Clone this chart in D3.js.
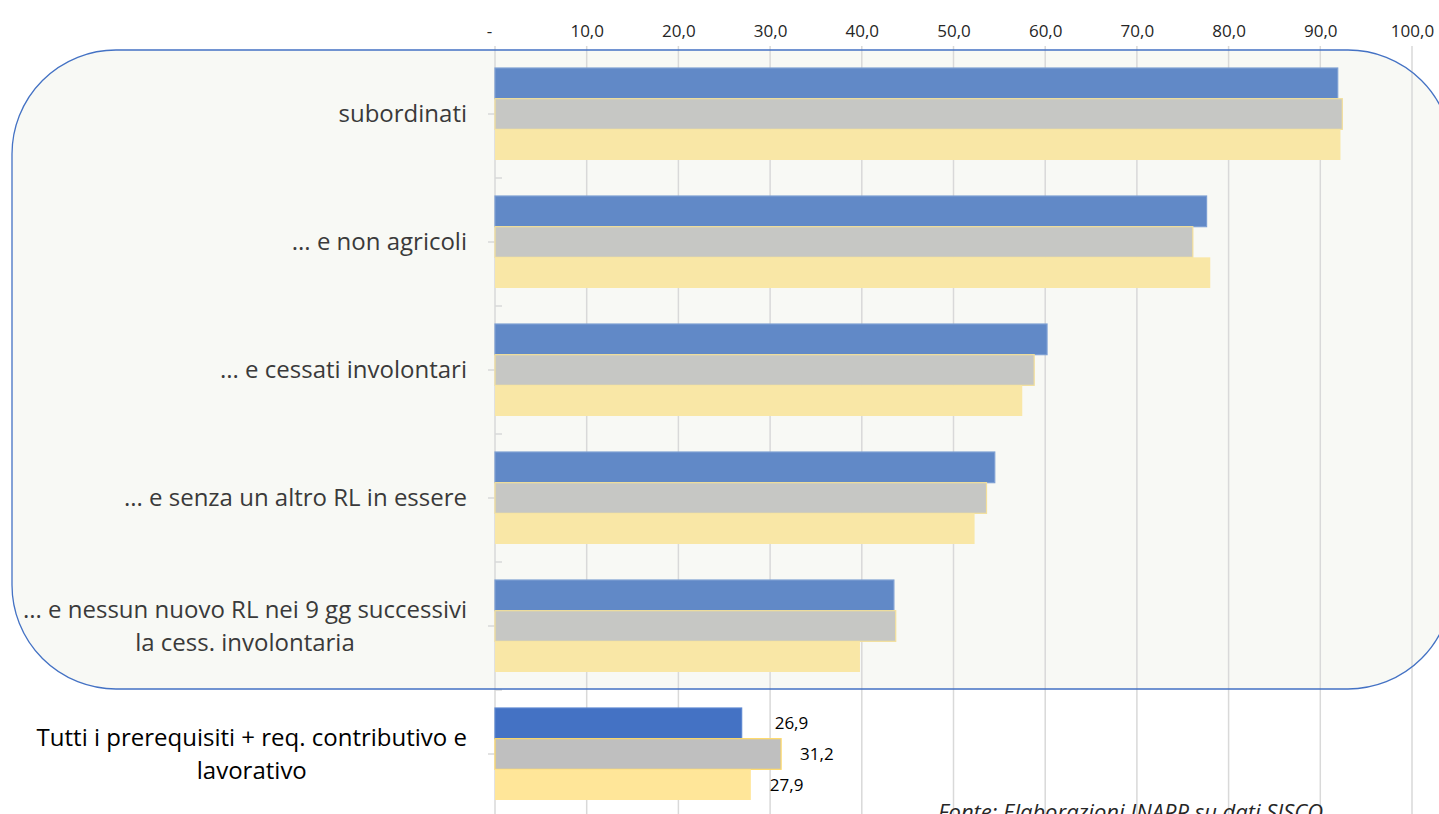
<!DOCTYPE html>
<html>
<head>
<meta charset="utf-8">
<script src="https://cdn.jsdelivr.net/npm/d3@7"></script>
<style>
  body { margin: 0; background: #fff; }
  svg { display: block; font-family: "Open Sans", sans-serif; }
</style>
</head>
<body>
<div id="chart"></div>
<script>
// chart data

var categories = [
  "subordinati",
  "... e non agricoli",
  "... e cessati involontari",
  "... e senza un altro RL in essere",
  "... e nessun nuovo RL nei 9 gg successivi\nla cess. involontaria",
  "Tutti i prerequisiti + req. contributivo e\nlavorativo"
];

var seriesKeys = ["s1", "s2", "s3"];

var s1Values = [91.9, 77.6, 60.2, 54.5, 43.5, 26.9];
var s2Values = [92.4, 76.1, 58.8, 53.6, 43.7, 31.2];
var s3Values = [92.2, 78.0, 57.5, 52.3, 39.8, 27.9];

var tickValues = [0, 10, 20, 30, 40, 50, 60, 70, 80, 90, 100];
var tickLabels = ["-", "10,0", "20,0", "30,0", "40,0", "50,0", "60,0", "70,0", "80,0", "90,0", "100,0"];

var sourceNote = "Fonte: Elaborazioni INAPP su dati SISCO";

// svg area to work in

var svgWidth = 1439;
var svgHeight = 814;

var margin = { top: 50, left: 495 };
var plotWidth = 917;
var plotHeight = 768;

// colours: the highlighted box fades the bars behind it
var colours = { s1: "#4472c4", s2: "#bfbfbf", s3: "#ffe699" };
var fadedColours = { s1: "#6189c7", s2: "#c6c7c4", s3: "#f9e7a6" };
var highlightCount = 5;

var svg = d3.select("#chart")
  .append("svg")
  .attr("width", svgWidth)
  .attr("height", svgHeight);

var rows = categories.map(function(c, i) {
  return { name: c, s1: s1Values[i], s2: s2Values[i], s3: s3Values[i], index: i };
});

var xScale = d3.scaleLinear()
  .domain([0, 100])
  .range([margin.left, margin.left + plotWidth]);

var yScale = d3.scaleBand()
  .domain(categories)
  .range([margin.top, margin.top + plotHeight])
  .paddingInner(0.28125)
  .paddingOuter(0.140625);

var ySub = d3.scaleBand()
  .domain(seriesKeys)
  .range([0, yScale.bandwidth()]);

// rounded highlight box background
var boxX = 12, boxY = 50, boxW = 1440, boxH = 639, boxR = 104;

svg.append("rect")
  .attr("x", boxX)
  .attr("y", boxY)
  .attr("width", boxW)
  .attr("height", boxH)
  .attr("rx", boxR)
  .attr("ry", boxR)
  .attr("fill", "#f8f9f5");

// vertical grid lines
svg.append("g")
  .selectAll("line")
  .data(tickValues)
  .enter()
  .append("line")
  .attr("x1", d => xScale(d))
  .attr("x2", d => xScale(d))
  .attr("y1", margin.top - 4)
  .attr("y2", svgHeight)
  .attr("stroke", "#d9d9d9")
  .attr("stroke-width", 1.5);

// top axis labels
var topAxis = d3.axisTop(xScale)
  .tickValues(tickValues)
  .tickFormat(function(d, i) { return tickLabels[i]; })
  .tickSize(0)
  .tickPadding(0);

var axisG = svg.append("g")
  .attr("transform", "translate(0, 37)")
  .call(topAxis);

axisG.select(".domain").remove();
axisG.selectAll("text")
  .attr("font-family", "'Open Sans', sans-serif")
  .attr("font-size", 17)
  .attr("fill", "#262626");
// the zero label ("-") sits a little left, like the accounting format
axisG.selectAll(".tick").filter(d => d === 0).select("text").attr("dx", -6);

// category ticks: centre ticks on the left, boundary ticks on the right
var tickG = svg.append("g");
rows.forEach(function(r, i) {
  var c = yScale(r.name) + yScale.bandwidth() / 2;
  tickG.append("line")
    .attr("x1", xScale(0) - 7).attr("x2", xScale(0))
    .attr("y1", c).attr("y2", c)
    .attr("stroke", "#d9d9d9").attr("stroke-width", 1.5);
  if (i > 0) {
    var b = yScale(r.name) - yScale.step() * yScale.paddingInner() / 2;
    tickG.append("line")
      .attr("x1", xScale(0)).attr("x2", xScale(0) + 7)
      .attr("y1", b).attr("y2", b)
      .attr("stroke", "#d9d9d9").attr("stroke-width", 1.5);
  }
});

// bars
var groups = svg.append("g")
  .selectAll("g")
  .data(rows)
  .enter()
  .append("g")
  .attr("transform", d => `translate(0, ${yScale(d.name)})`);

groups.selectAll("rect")
  .data(function(d) {
    return seriesKeys.map(function(k) { return { key: k, value: d[k], index: d.index }; });
  })
  .enter()
  .append("rect")
  .attr("x", xScale(0))
  .attr("y", d => ySub(d.key))
  .attr("width", d => xScale(d.value) - xScale(0))
  .attr("height", ySub.bandwidth())
  .attr("fill", d => d.index < highlightCount ? fadedColours[d.key] : colours[d.key])
  .attr("stroke", function(d) {
    if (d.key === "s2") return d.index < highlightCount ? "#f3df9a" : "#ffd966";
    if (d.key === "s1") return d.index < highlightCount ? "#7d9fd3" : "#5b86d0";
    return "none";
  })
  .attr("stroke-width", 1.2);

// value labels on the last group only
var last = rows[rows.length - 1];
seriesKeys.forEach(function(k) {
  svg.append("text")
    .attr("x", xScale(last[k]) + (k === "s1" ? 33 : 19))
    .attr("y", yScale(last.name) + ySub(k) + ySub.bandwidth() / 2)
    .attr("dy", "0.35em")
    .attr("font-size", 17)
    .attr("fill", "#000")
    .text(d3.format(".1f")(last[k]).replace(".", ","));
});

// category labels, block right aligned, lines centred within the block
var labelRight = 467;
rows.forEach(function(r, i) {
  var lines = r.name.split("\n");
  var t = svg.append("text")
    .attr("font-size", 24)
    .attr("fill", i < highlightCount ? "#3a3a3a" : "#000");
  var lineH = 33;
  var c = yScale(r.name) + yScale.bandwidth() / 2;
  var spans = lines.map(function(l, j) {
    return t.append("tspan")
      .attr("y", c + (j - (lines.length - 1) / 2) * lineH)
      .attr("dy", "0.35em")
      .text(l);
  });
  var widest = d3.max(spans, s => s.node().getComputedTextLength());
  spans.forEach(function(s) {
    s.attr("x", labelRight - widest / 2).attr("text-anchor", "middle");
  });
});

// highlight box outline on top
svg.append("rect")
  .attr("x", boxX)
  .attr("y", boxY)
  .attr("width", boxW)
  .attr("height", boxH)
  .attr("rx", boxR)
  .attr("ry", boxR)
  .attr("fill", "none")
  .attr("stroke", "#4472c4")
  .attr("stroke-width", 1.3);

// source note, cut by the bottom edge as in the picture
svg.append("text")
  .attr("x", 938)
  .attr("y", 820)
  .attr("font-size", 22)
  .attr("font-style", "italic")
  .attr("fill", "#262626")
  .text(sourceNote);
</script>
</body>
</html>
